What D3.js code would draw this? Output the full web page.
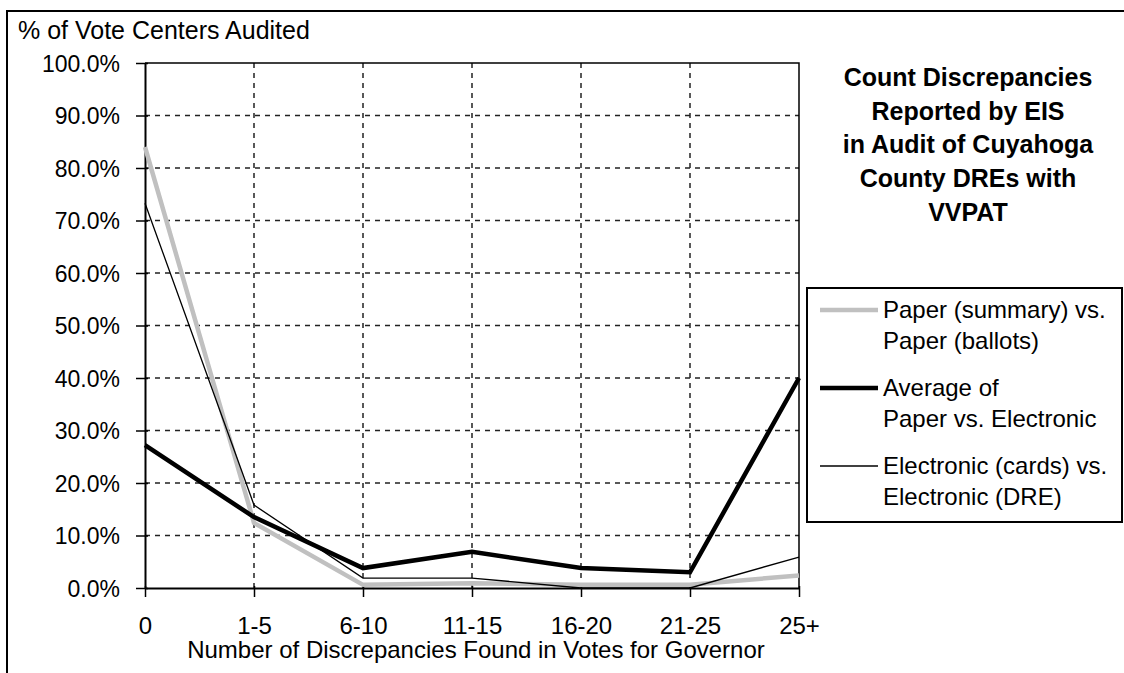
<!DOCTYPE html>
<html>
<head>
<meta charset="utf-8">
<script src="https://cdn.jsdelivr.net/npm/d3@7"></script>
<style>
  body { margin: 0; background: #fff; }
  text { font-family: Arial, "Liberation Sans", sans-serif; fill: #000; }
</style>
</head>
<body>
<div class="canvas"></div>
<script>
let width = 1124;
let height = 673;
const plot = { left: 145, right: 799, top: 63, bottom: 588 };

// data
let categories = ['0', '1-5', '6-10', '11-15', '16-20', '21-25', '25+'];
let paperVsPaper = [84.0, 12.4, 0.6, 0.9, 0.6, 0.6, 2.4];
let averagePaperVsElectronic = [27.2, 13.5, 3.8, 6.9, 3.8, 3.0, 40.0];
let electronicVsElectronic = [73.3, 15.8, 1.9, 1.9, 0.0, 0.0, 5.9];
let yTicks = [0, 10, 20, 30, 40, 50, 60, 70, 80, 90, 100];
let titleLines = ['Count Discrepancies', 'Reported by EIS', 'in Audit of Cuyahoga', 'County DREs with', 'VVPAT'];

let series = [
  { name: ['Paper (summary) vs.', 'Paper (ballots)'], values: paperVsPaper, color: '#c0c0c0', width: 4.5 },
  { name: ['Average of', 'Paper vs. Electronic'], values: averagePaperVsElectronic, color: '#000', width: 4.5 },
  { name: ['Electronic (cards) vs.', 'Electronic (DRE)'], values: electronicVsElectronic, color: '#000', width: 1.3 }
];

document.addEventListener("DOMContentLoaded", function () {
  let svg = d3.select('.canvas')
  .append('svg')
  .attr('width', width)
  .attr('height', height);

  // outer frame (only top and left edges show)
  svg.append('path')
  .attr('d', `M7,${height} V11 H${width}`)
  .attr('fill', 'none')
  .attr('stroke', '#000')
  .attr('stroke-width', 2);

  let xScale = d3.scalePoint()
  .domain(categories)
  .range([plot.left, plot.right]);

  let yScale = d3.scaleLinear()
  .domain([0, 100])
  .range([plot.bottom, plot.top]);

  // dashed gridlines
  svg.append('g')
  .selectAll('line')
  .data(yTicks.slice(1, -1))
  .enter()
  .append('line')
  .attr('x1', plot.left)
  .attr('x2', plot.right)
  .attr('y1', d => yScale(d))
  .attr('y2', d => yScale(d))
  .attr('stroke', '#222')
  .attr('stroke-width', 1.5)
  .attr('stroke-dasharray', '5,5');

  svg.append('g')
  .selectAll('line')
  .data(categories.slice(1, -1))
  .enter()
  .append('line')
  .attr('x1', d => xScale(d))
  .attr('x2', d => xScale(d))
  .attr('y1', plot.top)
  .attr('y2', plot.bottom)
  .attr('stroke', '#222')
  .attr('stroke-width', 1.5)
  .attr('stroke-dasharray', '5,5');

  // plot border: top and right
  svg.append('path')
  .attr('d', `M${plot.left},${plot.top} H${plot.right} V${plot.bottom}`)
  .attr('fill', 'none')
  .attr('stroke', '#000')
  .attr('stroke-width', 1.5);

  // y axis
  let yAxis = svg.append('g')
  .attr('class', 'y-axis')
  .attr('transform', `translate(${plot.left}, 0)`)
  .call(d3.axisLeft(yScale).tickValues(yTicks).tickSizeInner(9).tickSizeOuter(0).tickPadding(16).tickFormat(d => d.toFixed(1) + '%'));
  yAxis.select('.domain').attr('stroke-width', 2);
  yAxis.selectAll('.tick line').attr('x2', -9).attr('x1', 3).attr('stroke-width', 1.5);
  yAxis.selectAll('.tick text')
  .style('font-size', '23px')
  .style('font-family', 'Arial, "Liberation Sans", sans-serif')
  .attr('dy', '0.35em');

  // x axis
  let xAxis = svg.append('g')
  .attr('class', 'x-axis')
  .attr('transform', `translate(0, ${plot.bottom})`)
  .call(d3.axisBottom(xScale).tickSizeInner(9).tickSizeOuter(0).tickPadding(20));
  xAxis.select('.domain').attr('stroke-width', 2);
  xAxis.selectAll('.tick line').attr('y1', -2).attr('stroke-width', 1.5);
  xAxis.selectAll('.tick text')
  .style('font-size', '24px')
  .style('font-family', 'Arial, "Liberation Sans", sans-serif');

  // lines
  let line = d3.line()
  .x((d, i) => xScale(categories[i]))
  .y(d => yScale(d));

  svg.append('g')
  .selectAll('path')
  .data(series)
  .enter()
  .append('path')
  .attr('d', d => line(d.values))
  .attr('fill', 'none')
  .attr('stroke', d => d.color)
  .attr('stroke-width', d => d.width)
  .attr('stroke-linejoin', 'miter');

  // axis titles
  svg.append('text')
  .attr('x', 18)
  .attr('y', 30)
  .attr('dy', '0.35em')
  .style('font-size', '25px')
  .text('% of Vote Centers Audited');

  svg.append('text')
  .attr('x', 476)
  .attr('y', 650)
  .attr('dy', '0.35em')
  .attr('text-anchor', 'middle')
  .style('font-size', '24px')
  .text('Number of Discrepancies Found in Votes for Governor');

  // chart title
  svg.append('g')
  .selectAll('text')
  .data(titleLines)
  .enter()
  .append('text')
  .attr('x', 968)
  .attr('y', (d, i) => 77 + i * 33.8)
  .attr('dy', '0.35em')
  .attr('text-anchor', 'middle')
  .style('font-size', '25px')
  .style('font-weight', 'bold')
  .text(d => d);

  // legend
  const legend = svg.append('g')
  .attr('class', 'legend')
  .attr('transform', 'translate(807, 288)');

  legend.append('rect')
  .attr('width', 315)
  .attr('height', 234)
  .attr('fill', '#fff')
  .attr('stroke', '#000')
  .attr('stroke-width', 2);

  const legendItems = legend.selectAll('.legend-item')
  .data(series)
  .enter()
  .append('g')
  .attr('class', 'legend-item')
  .attr('transform', (d, i) => `translate(0, ${22 + i * 78})`);

  legendItems.append('line')
  .attr('x1', 13)
  .attr('x2', 71)
  .attr('stroke', d => d.color)
  .attr('stroke-width', d => d.width);

  legendItems.append('text')
  .attr('x', 76)
  .style('font-size', '24px')
  .selectAll('tspan')
  .data(d => d.name)
  .enter()
  .append('tspan')
  .attr('x', 76)
  .attr('y', (d, i) => i * 31)
  .attr('dy', '0.35em')
  .text(d => d);
});
</script>
</body>
</html>
